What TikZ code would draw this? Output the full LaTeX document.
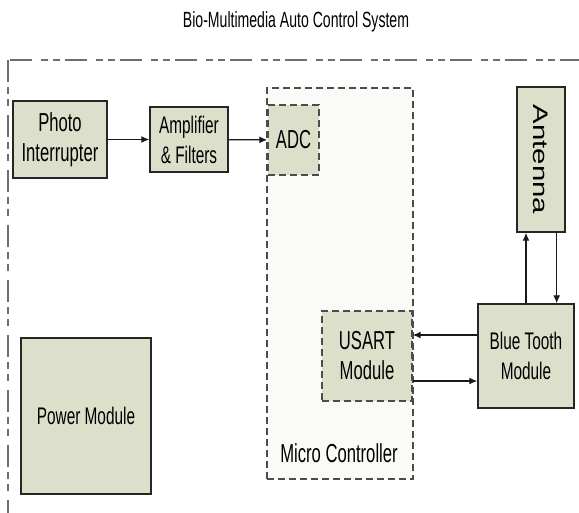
\documentclass[tikz,border=0pt]{standalone}
\usepackage{fontspec}
\setmainfont[FakeStretch=0.64]{Liberation Sans}
\newfontfamily\antennafont[FakeStretch=1.4]{Liberation Sans}
\usepackage{xcolor}
\usetikzlibrary{arrows.meta}

\definecolor{blockfill}{RGB}{220,224,202}
\definecolor{mcufill}{RGB}{250,250,247}
\definecolor{framegray}{RGB}{110,110,110}

\begin{document}
\begin{tikzpicture}[x=1pt,y=-1pt,
    block/.style={draw=black!85,line width=1.4pt,fill=blockfill,align=center,inner sep=0pt},
    dashblock/.style={block,draw=black!70,dash pattern=on 7pt off 4pt},
    big/.style={font=\fontsize{26}{30}\selectfont},
    mid/.style={font=\fontsize{24}{30}\selectfont},
    arr/.style={-{Latex[length=8pt,width=7pt]},line width=1.3pt,black!90}]
	\useasboundingbox (0,0) rectangle (579,512);

	% Title
	\node (title) at (296,22) {\fontsize{22}{26}\selectfont Bio-Multimedia Auto Control System};

	% System frame (runs off the page)
	\begin{scope}
		\clip (0,0) rectangle (579,512);
		\draw[framegray,line width=2.4pt,dash pattern=on 22pt off 5pt on 7pt off 5pt on 7pt off 9pt]
			(8,60) rectangle (620,560);
	\end{scope}

	% Micro controller
	\node[dashblock,fill=mcufill,minimum width=146pt,minimum height=391pt] (mcu) at (340,283.5) {};
	\node[big] (mculabel) at (339,453) {Micro Controller};
	\node[dashblock,big,minimum width=51pt,minimum height=70pt] (adc) at (293.5,140) {ADC};
	\node[dashblock,big,minimum width=90pt,minimum height=90pt] (usart) at (367,356) {USART\\Module};

	% Blocks
	\node[block,big,minimum width=94pt,minimum height=77pt] (photo) at (60,139.5) {Photo\\Interrupter};
	\node[block,mid,minimum width=78pt,minimum height=65pt] (amp) at (189,139.5) {Amplifier\\\& Filters};
	\node[block,mid,minimum width=96pt,minimum height=104pt] (bt) at (526,356) {Blue Tooth\\Module};
	\node[block,minimum width=48pt,minimum height=145pt] (ant) at (541,159.5) {};
	\node[rotate=-90,font=\antennafont\fontsize{21}{24}\selectfont] (antlabel) at (ant.center) {Antenna};
	\node[block,mid,minimum width=130pt,minimum height=156pt] (power) at (86,416) {Power Module};

	% Signal path
	\draw[arr] (photo) -- (amp);
	\draw[arr] (amp) -- (adc);

	% Blue Tooth links
	\draw[arr] (bt.north) -- (bt.north |- ant.south);
	\draw[arr] ([xshift=-9pt]ant.south east) -- ([xshift=-9pt]ant.south east |- bt.north);
	\draw[arr] ([yshift=21pt]bt.west) -- ([yshift=21pt]bt.west -| usart.east);
	\draw[arr] ([yshift=-25pt]usart.east) -- ([yshift=-25pt]usart.east -| bt.west);
\end{tikzpicture}
\end{document}
